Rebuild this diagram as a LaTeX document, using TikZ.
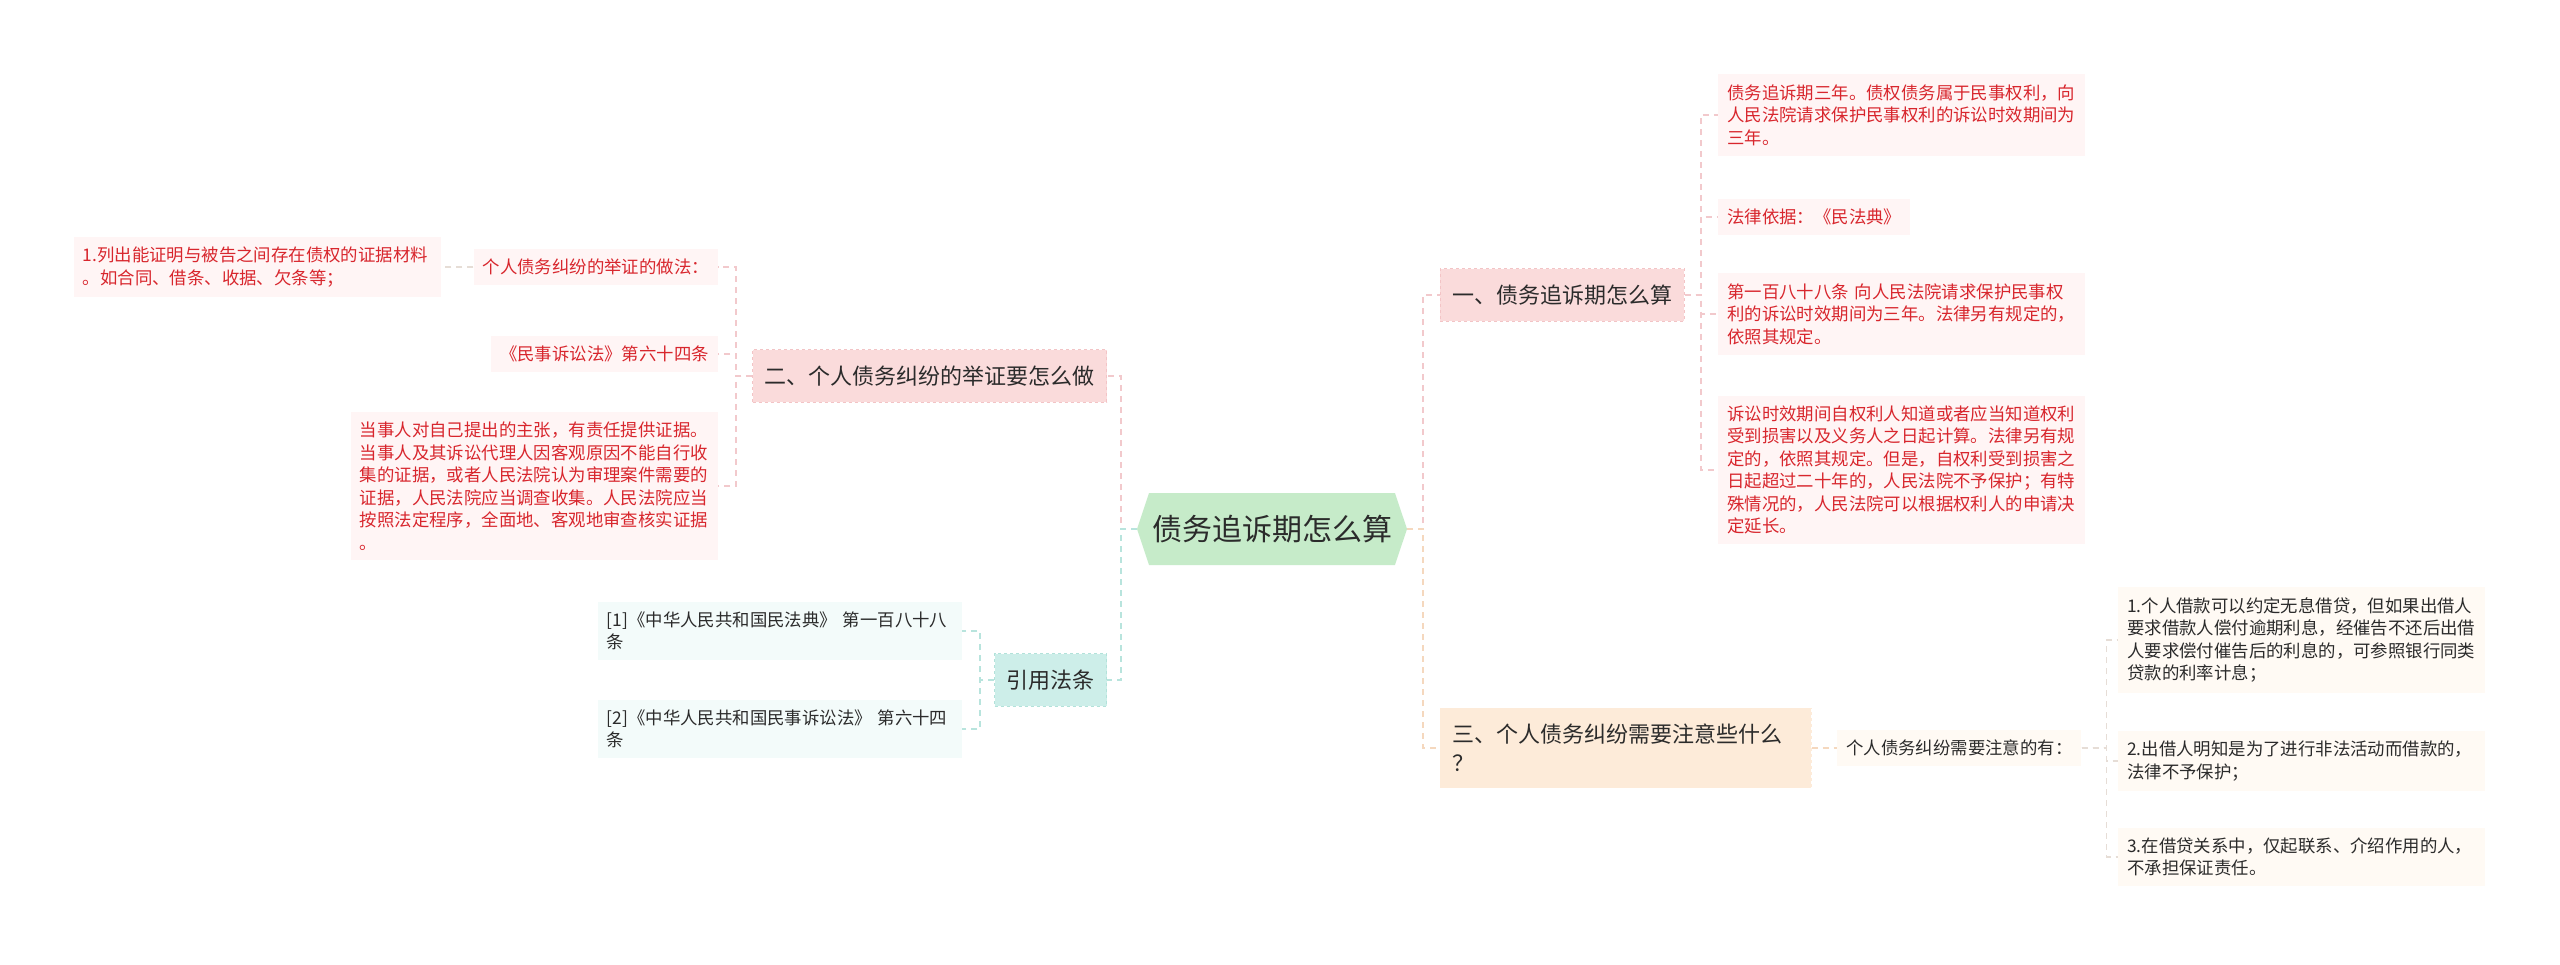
\documentclass[tikz,border=0pt]{standalone}
\usepackage{fontspec}
\newfontfamily\cjk{Noto Sans CJK SC}
\usetikzlibrary{shapes.symbols}

\definecolor{verdebase}{HTML}{C6EBC9}
\definecolor{rosabase}{HTML}{FADBDB}
\definecolor{rosabordo}{HTML}{F3C4C6}
\definecolor{rosachiaro}{HTML}{FFF5F5}
\definecolor{rosalinea}{HTML}{F2C9CC}
\definecolor{rossotesto}{HTML}{D8262D}
\definecolor{acquabase}{HTML}{CDEEE9}
\definecolor{acquabordo}{HTML}{B2E2DA}
\definecolor{acquachiaro}{HTML}{F3FBFA}
\definecolor{acqualinea}{HTML}{B8E4DD}
\definecolor{pescabase}{HTML}{FDEBD9}
\definecolor{pescachiaro}{HTML}{FFFAF4}
\definecolor{pescalinea}{HTML}{F5D8BE}
\definecolor{grigiolinea}{HTML}{E6DDD6}
\definecolor{testoscuro}{HTML}{2B2B2B}

\tikzset{
  radice/.style={signal, signal to=east and west, signal pointer angle=143,
    fill=verdebase, text=testoscuro, font=\cjk\fontsize{30}{36}\selectfont,
    minimum width=270pt, minimum height=72pt, inner sep=0pt},
  ramo/.style={rectangle, dashed, line width=0.8pt, text=testoscuro, align=left,
    font=\cjk\fontsize{22}{29}\selectfont, inner xsep=12pt, inner ysep=16pt},
  foglia/.style={rectangle, align=left, font=\cjk\fontsize{17.4}{22.5}\selectfont,
    inner xsep=9pt, inner ysep=10pt},
  larga/.style={text width=349pt},
  foglia rossa/.style={foglia, fill=rosachiaro, text=rossotesto},
  foglia acqua/.style={foglia, fill=acquachiaro, text=testoscuro},
  foglia pesca/.style={foglia, fill=pescachiaro, text=testoscuro},
  lega/.style={line width=1.5pt, dash pattern=on 6pt off 5pt}
}

\begin{document}
\begin{tikzpicture}[x=1pt, y=-1pt]
  \fill[white] (0,0) rectangle (2560,965);
  \useasboundingbox (0,0) rectangle (2560,965);

  % Radice
  \node[radice] (root) at (1272,529) {债务追诉期怎么算};

  % Rami principali
  \node[ramo, fill=rosabase, draw=rosabordo, anchor=west] (uno) at (1440,295) {一、债务追诉期怎么算};
  \node[ramo, fill=rosabase, draw=rosabordo, anchor=east] (due) at (1107,376) {二、个人债务纠纷的举证要怎么做};
  \node[ramo, fill=acquabase, draw=acquabordo, anchor=east] (fonti) at (1107,680) {引用法条};
  \node[ramo, fill=pescabase, draw=pescabase, anchor=west, text width=347pt] (tre) at (1440,748) {三、个人债务纠纷需要注意些什么\\？};

  % Foglie del primo ramo
  \node[foglia rossa, larga, anchor=west] (unoa) at (1718,115) {债务追诉期三年。债权债务属于民事权利，向\\人民法院请求保护民事权利的诉讼时效期间为\\三年。};
  \node[foglia rossa, anchor=west] (unob) at (1718,217) {法律依据：《民法典》};
  \node[foglia rossa, larga, anchor=west] (unoc) at (1718,314) {第一百八十八条 向人民法院请求保护民事权\\利的诉讼时效期间为三年。法律另有规定的，\\依照其规定。};
  \node[foglia rossa, larga, anchor=west] (unod) at (1718,470) {诉讼时效期间自权利人知道或者应当知道权利\\受到损害以及义务人之日起计算。法律另有规\\定的，依照其规定。但是，自权利受到损害之\\日起超过二十年的，人民法院不予保护；有特\\殊情况的，人民法院可以根据权利人的申请决\\定延长。};

  % Foglie del secondo ramo
  \node[foglia rossa, anchor=east] (duea) at (718,267) {个人债务纠纷的举证的做法：};
  \node[foglia rossa, larga, anchor=east] (dueaa) at (441,267) {1.列出能证明与被告之间存在债权的证据材料\\。如合同、借条、收据、欠条等；};
  \node[foglia rossa, anchor=east] (dueb) at (718,354) {《民事诉讼法》第六十四条};
  \node[foglia rossa, larga, anchor=east] (duec) at (718,486) {当事人对自己提出的主张，有责任提供证据。\\当事人及其诉讼代理人因客观原因不能自行收\\集的证据，或者人民法院认为审理案件需要的\\证据，人民法院应当调查收集。人民法院应当\\按照法定程序，全面地、客观地审查核实证据\\。};

  % Foglie dei riferimenti
  \node[foglia acqua, text width=346pt, anchor=east] (fontia) at (962,631) {[1]《中华人民共和国民法典》 第一百八十八\\条};
  \node[foglia acqua, text width=346pt, anchor=east] (fontib) at (962,729) {[2]《中华人民共和国民事诉讼法》 第六十四\\条};

  % Foglie del terzo ramo
  \node[foglia pesca, anchor=west] (trea) at (1837,748) {个人债务纠纷需要注意的有：};
  \node[foglia pesca, larga, anchor=west] (treaa) at (2118,640) {1.个人借款可以约定无息借贷，但如果出借人\\要求借款人偿付逾期利息，经催告不还后出借\\人要求偿付催告后的利息的，可参照银行同类\\贷款的利率计息；};
  \node[foglia pesca, larga, anchor=west] (treab) at (2118,761) {2.出借人明知是为了进行非法活动而借款的，\\法律不予保护；};
  \node[foglia pesca, larga, anchor=west] (treac) at (2118,857) {3.在借贷关系中，仅起联系、介绍作用的人，\\不承担保证责任。};

  % Collegamenti dalla radice
  \draw[lega, rosalinea] (root.west) -- ++(-16,0) |- (due.east);
  \draw[lega, acqualinea] (root.west) -- ++(-16,0) |- (fonti.east);
  \draw[lega, rosalinea] (root.east) -- ++(16,0) |- (uno.west);
  \draw[lega, pescalinea] (root.east) -- ++(16,0) |- (tre.west);

  % Collegamenti del primo ramo
  \draw[lega, rosalinea] (uno.east) -- ++(16,0) |- (unoa.west);
  \draw[lega, rosalinea] (uno.east) -- ++(16,0) |- (unob.west);
  \draw[lega, rosalinea] (uno.east) -- ++(16,0) |- (unoc.west);
  \draw[lega, rosalinea] (uno.east) -- ++(16,0) |- (unod.west);

  % Collegamenti del secondo ramo
  \draw[lega, rosalinea] (due.west) -- ++(-16,0) |- (duea.east);
  \draw[lega, rosalinea] (due.west) -- ++(-16,0) |- (dueb.east);
  \draw[lega, rosalinea] (due.west) -- ++(-16,0) |- (duec.east);
  \draw[lega, grigiolinea] (duea.west) -- (dueaa.east);

  % Collegamenti dei riferimenti
  \draw[lega, acqualinea] (fonti.west) -- ++(-14,0) |- (fontia.east);
  \draw[lega, acqualinea] (fonti.west) -- ++(-14,0) |- (fontib.east);

  % Collegamenti del terzo ramo
  \draw[lega, pescalinea] (tre.east) -- (trea.west);
  \draw[lega, grigiolinea] (trea.east) -- ++(25,0) |- (treaa.west);
  \draw[lega, grigiolinea] (trea.east) -- ++(25,0) |- (treab.west);
  \draw[lega, grigiolinea] (trea.east) -- ++(25,0) |- (treac.west);
\end{tikzpicture}
\end{document}
